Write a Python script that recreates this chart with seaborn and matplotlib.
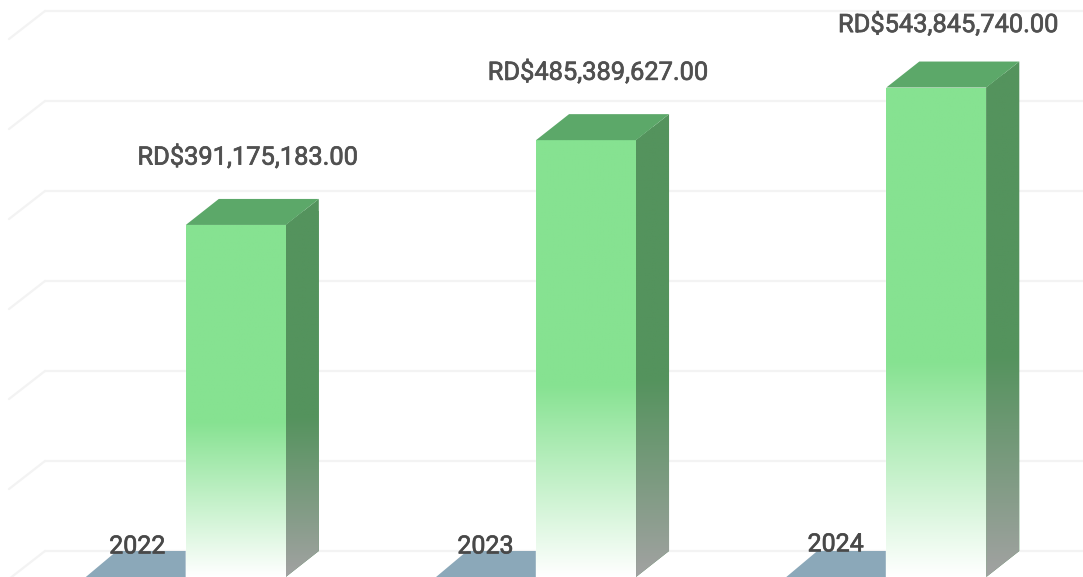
import numpy as np
import pandas as pd
import matplotlib
matplotlib.use("Agg")
import matplotlib.pyplot as plt
import matplotlib.patheffects as pe
from matplotlib.colors import to_rgb
from matplotlib.patches import Polygon
import seaborn as sns

years = ["2022", "2023", "2024"]
totals = [391175183.00, 485389627.00, 543845740.00]
grid_values = [0, 100e6, 200e6, 300e6, 400e6, 500e6, 600e6]

W, H = 1083, 577
sns.set_theme(style="white")
plt.rcParams["font.family"] = ["Roboto", "DejaVu Sans"]

fig = plt.figure(figsize=(W / 100, H / 100), dpi=100)
ax = fig.add_axes([0, 0, 1, 1])

df = pd.DataFrame({"year": years, "total": totals})
BAR_PX, STEP_PX, C0_PX = 100, 350.25, 235.8
sns.barplot(data=df, x="year", y="total", color="#86E291", width=BAR_PX / STEP_PX,
            saturation=1, errorbar=None, ax=ax, zorder=3)

xlim = (-C0_PX / STEP_PX, (W - C0_PX) / STEP_PX)
ylim = (0, H / 0.9 * 1e6)
px_x = 1 / STEP_PX            # data units per pixel, x
px_y = 1e6 / 0.9              # data units per pixel, y
depth_x, depth_y = 33 * px_x, 26 * px_y
thick = [pe.withStroke(linewidth=0.5, foreground="#505050")]


def ramp(stops, n=256):
    """Vertical colour ramp, bottom to top."""
    f = np.linspace(0, 1, n)
    pos = [s[0] for s in stops]
    cols = np.array([to_rgb(s[1]) for s in stops])
    return np.stack([np.interp(f, pos, cols[:, i]) for i in range(3)], axis=1)[:, None, :]


front_ramp = ramp([(0, "#FFFFFF"), (0.44, "#86E291"), (1, "#86E291")])
side_ramp = ramp([(0, "#A2A2A2"), (0.44, "#54935D"), (1, "#54935D")])

# back-wall gridlines and their diagonal run on the side wall
for g in grid_values:
    y = g + depth_y
    ax.plot([45 * px_x + xlim[0], xlim[1]], [y, y], color="#F3F3F3", lw=1.6, zorder=1)
    ax.plot([9 * px_x + xlim[0], 45 * px_x + xlim[0]], [y - 28 * px_y, y],
            color="#F3F3F3", lw=1.6, zorder=1)

label_dy = [49, 49, 45.5]      # the top label sits closer to its bar
year_dx = [-35, -36.5, -36.5]
year_dy = [22, 22, 23.5]

for i, bar in enumerate(ax.patches):
    l, r, v = bar.get_x(), bar.get_x() + bar.get_width(), bar.get_height()

    # front face gradient
    im = ax.imshow(front_ramp, extent=(l, r, 0, v), origin="lower", aspect="auto",
                   interpolation="bilinear", zorder=4)
    im.set_clip_path(bar)

    # side face with gradient
    side = Polygon([(r, 0), (r + depth_x, depth_y), (r + depth_x, v + depth_y), (r, v)],
                   closed=True, fc="#54935D", ec="none", zorder=3)
    ax.add_patch(side)
    im2 = ax.imshow(side_ramp, extent=(r, r + depth_x, 0, v + depth_y * 0.5), origin="lower",
                    aspect="auto", interpolation="bilinear", zorder=4)
    im2.set_clip_path(side)

    # top face
    ax.add_patch(Polygon([(l, v), (r, v), (r + depth_x, v + depth_y), (l + depth_x, v + depth_y)],
                         closed=True, fc="#5CA869", ec="none", zorder=4))

    # flat floor plate to the left of each bar
    w = r - l
    ax.add_patch(Polygon([(l - w, 0), (l - w + 31 * px_x, depth_y), (l, depth_y), (l, 0)],
                         closed=True, fc="#8BA8B9", ec="none", zorder=2))

    # value label
    ax.annotate(f"RD${totals[i]:,.2f}", xy=((l + r) / 2, v), xytext=(8.5, label_dy[i]),
                textcoords="offset points", ha="center", va="center",
                fontsize=18.3, color="#505050", zorder=6, path_effects=thick)
    # category label
    ax.annotate(years[i], xy=(l, 0), xytext=(year_dx[i], year_dy[i]),
                textcoords="offset points", ha="center", va="center",
                fontsize=18, color="#484848", zorder=6, path_effects=thick)

ax.set_xlim(*xlim)
ax.set_ylim(*ylim)
ax.axis("off")
fig.savefig("out.png", dpi=100, facecolor="white")
